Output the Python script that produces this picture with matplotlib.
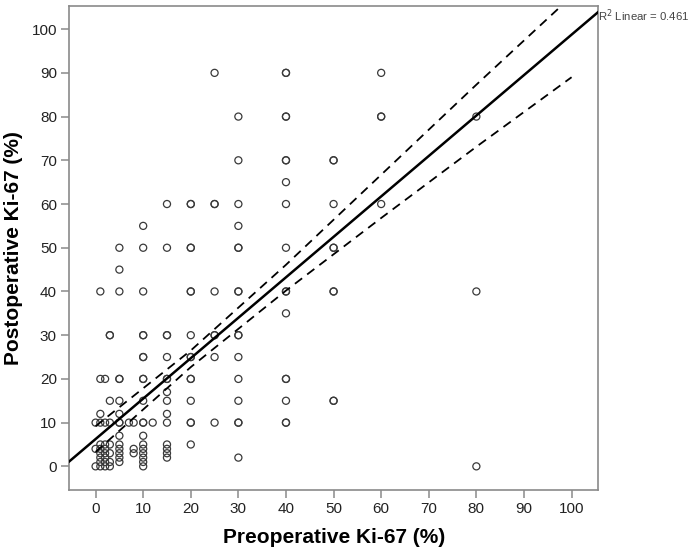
import matplotlib
matplotlib.use("Agg")
import matplotlib.pyplot as plt
import numpy as np

plt.rcParams['font.family'] = ['Liberation Sans', 'DejaVu Sans']

# Ki-67 pairs (repeated pairs = overlapping circles)
pre_ki67 = [
    25, 40, 40, 60,
    30, 40, 40, 60, 60, 80,
    30, 40, 40, 50, 50,
    40,
    15, 20, 20, 25, 25, 30, 40, 50, 60,
    10, 30,
    5, 10, 15, 20, 20, 30, 30, 40, 50, 50,
    5,
    1, 5, 10, 20, 20, 25, 30, 30, 40, 40, 50, 50, 80,
    40,
    3, 3, 10, 10, 15, 15, 20, 25, 25, 30, 30,
    10, 10, 15, 20, 20, 25, 30,
    1, 2, 5, 5, 10, 10, 15, 15, 20, 20, 30, 40, 40,
    15,
    3, 5, 10, 15, 20, 30, 40, 50, 50,
    1, 5, 15,
    0, 1, 2, 3, 5, 5, 7, 8, 10, 10, 12, 15, 20, 20, 25, 30, 30, 40, 40,
    5, 10,
    1, 2, 3, 5, 10, 15, 20,
    0, 1, 2, 5, 8, 10, 15,
    1, 2, 3, 5, 8, 10, 15,
    1, 2, 5, 10, 15, 30,
    1, 2, 3, 5, 10,
    0, 1, 2, 3, 10, 80,
]
post_ki67 = [
    90, 90, 90, 90,
    80, 80, 80, 80, 80, 80,
    70, 70, 70, 70, 70,
    65,
    60, 60, 60, 60, 60, 60, 60, 60, 60,
    55, 55,
    50, 50, 50, 50, 50, 50, 50, 50, 50, 50,
    45,
    40, 40, 40, 40, 40, 40, 40, 40, 40, 40, 40, 40, 40,
    35,
    30, 30, 30, 30, 30, 30, 30, 30, 30, 30, 30,
    25, 25, 25, 25, 25, 25, 25,
    20, 20, 20, 20, 20, 20, 20, 20, 20, 20, 20, 20, 20,
    17,
    15, 15, 15, 15, 15, 15, 15, 15, 15,
    12, 12, 12,
    10, 10, 10, 10, 10, 10, 10, 10, 10, 10, 10, 10, 10, 10, 10, 10, 10, 10, 10,
    7, 7,
    5, 5, 5, 5, 5, 5, 5,
    4, 4, 4, 4, 4, 4, 4,
    3, 3, 3, 3, 3, 3, 3,
    2, 2, 2, 2, 2, 2,
    1, 1, 1, 1, 1,
    0, 0, 0, 0, 0, 0,
]

# fit line and 95% CI of the mean
fit_intercept = 6.24
fit_slope = 0.925
ci_x = [0, 20, 40, 60, 80, 100]
ci_lower = [3.3, 22.7, 40.2, 56.8, 73.1, 89.0]
ci_upper = [9.2, 26.5, 46.1, 66.7, 87.3, 107.5]
r2_text = "R$^2$ Linear = 0.461"

xlim = (-5.5, 105.6)
ylim = (-5.4, 105.4)

fig = plt.figure(figsize=(6.94, 5.53), dpi=100)
ax = fig.add_axes([0.100, 0.114, 0.762, 0.876])

ax.scatter(pre_ki67, post_ki67, s=26, facecolors='none', edgecolors='#3a3a3a',
           linewidths=0.9, zorder=3)

lx = np.array(xlim)
ax.plot(lx, fit_intercept + fit_slope * lx, color='black', lw=1.8, zorder=4)
ax.plot(ci_x, ci_lower, color='black', lw=1.3, ls=(0, (5, 3.5)), zorder=4)
ax.plot(ci_x, ci_upper, color='black', lw=1.3, ls=(0, (5, 3.5)), zorder=4)

ax.set_xlim(*xlim)
ax.set_ylim(*ylim)
ax.set_xticks(range(0, 101, 10))
ax.set_yticks(range(0, 101, 10))
for s in ax.spines.values():
    s.set_color('#8a8a8a')
    s.set_linewidth(1.2)
ax.tick_params(direction='out', length=6, width=1.1, color='#8a8a8a',
               labelsize=11, labelcolor='#222222', pad=3)

ax.set_xlabel("Preoperative Ki-67 (%)", fontsize=15, fontweight='bold', labelpad=8)
ax.set_ylabel("Postoperative Ki-67 (%)", fontsize=15, fontweight='bold', labelpad=6)

ax.text(1.0, 0.978, r2_text, transform=ax.transAxes, fontsize=8.2,
        color='#444444', ha='left', va='center')

fig.savefig("out.png", dpi=100)
